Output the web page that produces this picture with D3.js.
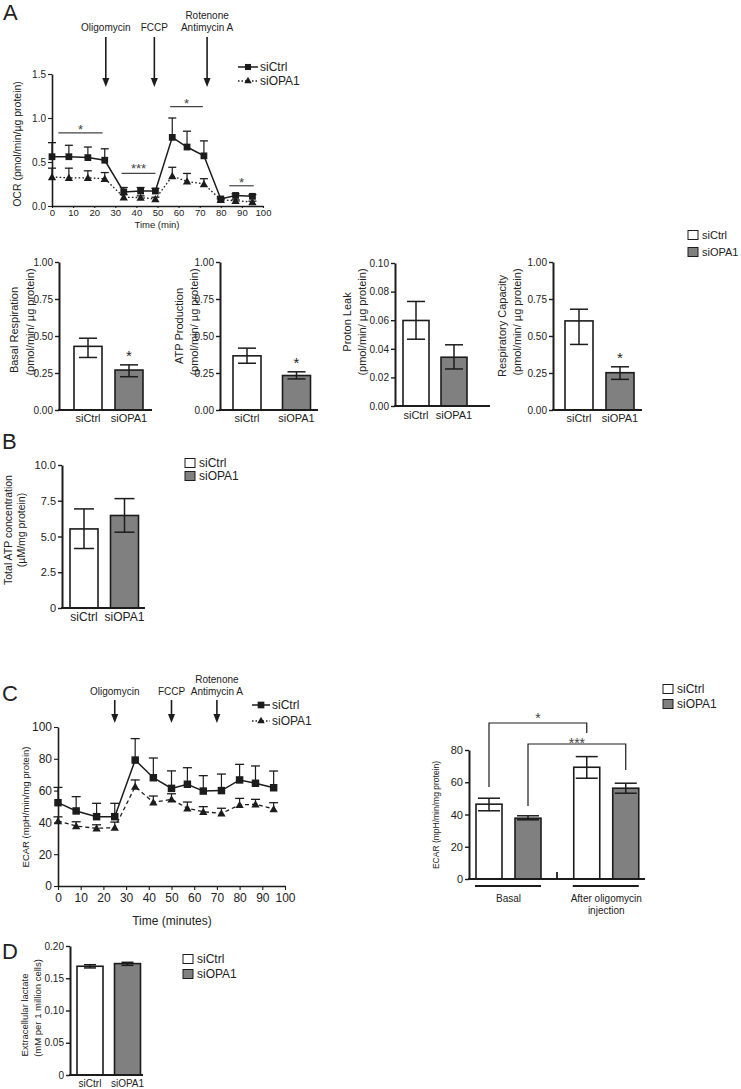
<!DOCTYPE html>
<html><head><meta charset="utf-8">
<script src="https://cdn.jsdelivr.net/npm/d3@7"></script>
<style>
body{margin:0;background:#fff}
text{font-family:"Liberation Sans",Arial,sans-serif;fill:#222}
</style>
</head><body><svg id="c" width="741" height="1089"></svg>
<script>
// ---------------- DATA ----------------
const groups = ["siCtrl", "siOPA1"];

// Panel A – OCR time course
const ocrTime = [0, 8, 17, 25, 34, 42, 49, 57, 64, 72, 80, 87, 95];
const ocrCtrl = [0.56, 0.56, 0.55, 0.52, 0.16, 0.17, 0.17, 0.78, 0.67, 0.57, 0.08, 0.12, 0.11];
const ocrCtrlErr = [0.16, 0.13, 0.12, 0.13, 0.05, 0.04, 0.03, 0.22, 0.18, 0.17, 0.01, 0.02, 0.02];
const ocrOpa = [0.33, 0.32, 0.32, 0.31, 0.10, 0.095, 0.08, 0.34, 0.28, 0.25, 0.07, 0.06, 0.045];
const ocrOpaErr = [0.10, 0.11, 0.08, 0.07, 0.03, 0.02, 0.02, 0.10, 0.09, 0.06, 0.01, 0.01, 0.01];
const ocrInjections = ["Oligomycin", "FCCP", "Rotenone\nAntimycin A"];
const ocrInjectTime = [25.5, 48.5, 73.5];
const ocrSigStart = [3, 33, 56, 84];
const ocrSigEnd = [24, 49, 71.5, 95.6];
const ocrSigLevel = [0.83, 0.37, 1.13, 0.23];
const ocrSigText = ["*", "***", "*", "*"];
const ocrXTicks = [0, 10, 20, 30, 40, 50, 60, 70, 80, 90, 100];
const ocrYTicks = [0, 0.5, 1.0, 1.5];

// Panel A – bar summaries
const basalMean = [0.43, 0.27], basalLow = [0.355, 0.225], basalHigh = [0.485, 0.305];
const atpMean = [0.366, 0.233], atpLow = [0.316, 0.21], atpHigh = [0.418, 0.258];
const leakMean = [0.0598, 0.0341], leakLow = [0.0467, 0.0259], leakHigh = [0.0731, 0.0428];
const capMean = [0.602, 0.252], capLow = [0.443, 0.207], capHigh = [0.681, 0.292];
const unitTicks = [0, 0.25, 0.5, 0.75, 1.0];
const leakTicks = [0, 0.02, 0.04, 0.06, 0.08, 0.10];

// Panel B – total ATP
const totalAtpMean = [5.53, 6.47], totalAtpLow = [4.16, 5.3], totalAtpHigh = [6.93, 7.65];
const totalAtpTicks = [0, 2.5, 5.0, 7.5, 10.0];
const totalAtpTickLabels = ["0", "2.5", "5.0", "7.5", "10.0"];

// Panel C – ECAR time course
const ecarTime = [0, 8, 17, 25, 34, 42, 50, 57, 64, 72, 80, 87, 95];
const ecarCtrl = [52.4, 47.2, 43.6, 43.6, 79.2, 68.1, 61.4, 64.0, 59.7, 60.0, 66.7, 64.6, 61.8];
const ecarCtrlErr = [9.6, 9.0, 8.4, 8.4, 13.5, 12.4, 11.0, 10.4, 9.7, 10.4, 9.8, 10.9, 10.5];
const ecarOpa = [40.9, 37.7, 36.3, 36.7, 62.5, 52.6, 54.5, 48.9, 46.7, 45.7, 51.0, 51.4, 48.4];
const ecarOpaErr = [2.6, 2.7, 2.2, 3.5, 4.2, 4.0, 3.5, 3.9, 3.2, 3.2, 4.1, 3.1, 4.0];
const ecarInjectTime = [25, 50, 70];
const ecarXTicks = [0, 10, 20, 30, 40, 50, 60, 70, 80, 90, 100];
const ecarYTicks = [0, 20, 40, 60, 80, 100];

// Panel C – ECAR bars
const ecarGroups = ["Basal", "After oligomycin\ninjection"];
const ecarBarMean = [[46.4, 37.7], [69.3, 56.3]];
const ecarBarLow = [[42.3, 36.7], [62.5, 53.2]];
const ecarBarHigh = [[50.1, 39.2], [75.9, 59.4]];
const ecarBarTicks = [0, 20, 40, 60, 80];

// Panel D – lactate
const lactateMean = [0.1686, 0.1727], lactateLow = [0.166, 0.170], lactateHigh = [0.171, 0.1747];
const lactateTicks = [0, 0.05, 0.10, 0.15, 0.20];
const lactateTickLabels = ["0", "0.05", "0.10", "0.15", "0.20"];

// ---------------- DRAWING ----------------
const svg = d3.select("#c");
const INK = "#1c1c1c";
const GRAY = "#808080";

function yAxis(scale, x, ticks, fmt, fs, sw) {
  const a = svg.append("g").attr("transform", `translate(${x},0)`)
    .call(d3.axisLeft(scale).tickValues(ticks).tickFormat(fmt).tickSize(4).tickSizeOuter(0).tickPadding(2));
  a.select(".domain").attr("stroke", INK).attr("stroke-width", sw);
  a.selectAll(".tick line").attr("stroke", INK).attr("stroke-width", Math.max(1, sw * 0.7));
  a.selectAll(".tick text").style("font-size", fs + "px");
  return a;
}
function xAxis(scale, y, ticks, fs, sw, tsz, pad) {
  const a = svg.append("g").attr("transform", `translate(0,${y})`)
    .call(d3.axisBottom(scale).tickValues(ticks).tickSize(tsz).tickSizeOuter(0).tickPadding(pad));
  a.select(".domain").attr("stroke", INK).attr("stroke-width", sw);
  a.selectAll(".tick line").attr("stroke", INK).attr("stroke-width", Math.max(1, sw * 0.7));
  a.selectAll(".tick text").style("font-size", fs + "px");
  return a;
}
function vText(x, y, str, fs) {
  svg.append("text").attr("transform", `translate(${x},${y}) rotate(-90)`)
    .attr("text-anchor", "middle").attr("dominant-baseline", "central")
    .style("font-size", fs + "px").text(str);
}
function text(x, y, str, fs, anchor = "middle") {
  return svg.append("text").attr("x", x).attr("y", y).attr("text-anchor", anchor)
    .attr("dominant-baseline", "central").style("font-size", fs + "px").text(str);
}
function letter(x, y, s) {
  svg.append("text").attr("x", x).attr("y", y).style("font-size", "22px").text(s);
}
function barLegend(x, y1, y2, fs) {
  [y1, y2].forEach((yy, i) => {
    svg.append("rect").attr("x", x).attr("y", yy - 4.5).attr("width", 10).attr("height", 9)
      .attr("fill", i ? GRAY : "#fff").attr("stroke", INK).attr("stroke-width", 1);
    text(x + 14, yy, groups[i], fs, "start");
  });
}
function errBars(cx, yLow, yHigh, capW, sw) {
  svg.append("line").attr("x1", cx).attr("x2", cx).attr("y1", yLow).attr("y2", yHigh)
    .attr("stroke", INK).attr("stroke-width", sw);
  [yLow, yHigh].forEach(yy => svg.append("line").attr("x1", cx - capW / 2).attr("x2", cx + capW / 2)
    .attr("y1", yy).attr("y2", yy).attr("stroke", INK).attr("stroke-width", sw));
}

function barChart(c) {
  const y = d3.scaleLinear().domain([0, c.max]).range([c.y0, c.y1]);
  const x = d3.scalePoint().domain(groups).range(c.xr);
  svg.append("g").selectAll("rect").data(c.mean).join("rect")
    .attr("x", (d, i) => x(groups[i]) - c.bw / 2).attr("y", d => y(d))
    .attr("width", c.bw).attr("height", d => y(0) - y(d))
    .attr("fill", (d, i) => i ? GRAY : "#fff").attr("stroke", INK).attr("stroke-width", 1.6);
  c.mean.forEach((d, i) => errBars(x(groups[i]), y(c.low[i]), y(c.high[i]), c.capW, 1.5));
  yAxis(y, c.ax, c.ticks, c.fmt, c.tfs, 2);
  svg.append("line").attr("x1", c.ax - 1).attr("x2", c.axEnd).attr("y1", y(0)).attr("y2", y(0))
    .attr("stroke", INK).attr("stroke-width", 2.2);
  groups.forEach(gname => text(x(gname), y(0) + c.lblDy, gname, c.lfs));
  c.title.forEach((t, i) => vText(c.tx[i], c.ty[i], t, c.tfs2));
  if (c.star) c.star.forEach((s, i) => {
    if (s) svg.append("text").attr("x", x(groups[i])).attr("y", y(c.high[i]) + c.starDy)
      .attr("text-anchor", "middle").style("font-size", "15px").text(s);
  });
  return { x, y };
}

function arrow(x, yTop, yBot) {
  svg.append("line").attr("x1", x).attr("x2", x).attr("y1", yTop).attr("y2", yBot - 6)
    .attr("stroke", INK).attr("stroke-width", 1.6);
  svg.append("path").attr("d", `M${x - 3.5},${yBot - 9}L${x + 3.5},${yBot - 9}L${x},${yBot}Z`).attr("fill", INK);
}

function lineChart(c) {
  const x = d3.scaleLinear().domain([0, 100]).range(c.xr);
  const y = d3.scaleLinear().domain([0, c.max]).range([c.y0, c.y1]);
  const series = [
    { t: c.t, v: c.ctrl, e: c.ctrlErr, dash: null, sym: d3.symbolSquare, size: c.sq },
    { t: c.t, v: c.opa, e: c.opaErr, dash: c.dash, sym: d3.symbolTriangle, size: c.tri }
  ];
  series.forEach(s => {
    s.v.forEach((v, i) => {
      const cx = x(s.t[i]);
      svg.append("line").attr("x1", cx).attr("x2", cx).attr("y1", y(v)).attr("y2", y(v + s.e[i]))
        .attr("stroke", INK).attr("stroke-width", 1.2);
      svg.append("line").attr("x1", cx - c.capW / 2).attr("x2", cx + c.capW / 2)
        .attr("y1", y(v + s.e[i])).attr("y2", y(v + s.e[i])).attr("stroke", INK).attr("stroke-width", 1.3);
    });
  });
  series.forEach(s => {
    const line = d3.line().x((d, i) => x(s.t[i])).y(d => y(d));
    svg.append("path").attr("d", line(s.v)).attr("fill", "none").attr("stroke", INK)
      .attr("stroke-width", s.dash ? 1.3 : 1.5).attr("stroke-dasharray", s.dash);
    svg.append("g").selectAll("path").data(s.v).join("path")
      .attr("transform", (d, i) => `translate(${x(s.t[i])},${y(d) + (s.sym === d3.symbolTriangle ? 0.8 : 0)})`)
      .attr("d", d3.symbol().type(s.sym).size(s.size)).attr("fill", INK);
  });
  yAxis(y, c.xr[0], c.yTicks, c.yFmt, c.yfs, 1.6);
  xAxis(x, c.y0, c.xTicks, c.xfs, 1.6, c.xTickSize, c.xPad);
  c.inj.forEach((tm, i) => {
    const ax = x(tm);
    arrow(ax, c.arrowTop, c.arrowBot);
    const lines = c.injNames[i].split("\n");
    lines.forEach((ln, k) => text(ax, c.injY - (lines.length - 1 - k) * 12, ln, c.injFs));
  });
  series.forEach((s, i) => {
    const ly = c.legY[i];
    svg.append("line").attr("x1", c.legX).attr("x2", c.legX + c.legW).attr("y1", ly).attr("y2", ly)
      .attr("stroke", INK).attr("stroke-width", 1.5).attr("stroke-dasharray", s.dash ? "1.5,2" : null);
    svg.append("path").attr("transform", `translate(${c.legX + c.legW / 2},${ly})`)
      .attr("d", d3.symbol().type(s.sym).size(s.size * 0.8)).attr("fill", INK);
    text(c.legX + c.legW + 2, ly, groups[i], c.legFs, "start");
  });
  return { x, y };
}

// ---- Panel A line chart ----
letter(3, 20, "A");
const A = lineChart({
  xr: [52, 263], y0: 206, y1: 74, max: 1.5,
  t: ocrTime, ctrl: ocrCtrl, ctrlErr: ocrCtrlErr, opa: ocrOpa, opaErr: ocrOpaErr,
  dash: "1.6,2.2", sq: 46, tri: 30, capW: 8,
  yTicks: ocrYTicks, yFmt: d3.format(".1f"), yfs: 10, xTicks: ocrXTicks, xfs: 9.5, xTickSize: 2, xPad: 1,
  inj: ocrInjectTime, injNames: ocrInjections, injY: 27, injFs: 10, arrowTop: 37, arrowBot: 87,
  legX: 238, legW: 20, legY: [67, 81], legFs: 12
});
vText(17, 144, "OCR (pmol/min/µg protein)", 10.5);
text(157, 224, "Time (min)", 9.5);
ocrSigText.forEach((s, i) => {
  const ly = A.y(ocrSigLevel[i]);
  svg.append("line").attr("x1", A.x(ocrSigStart[i])).attr("x2", A.x(ocrSigEnd[i]))
    .attr("y1", ly).attr("y2", ly).attr("stroke", "#444").attr("stroke-width", 1.2);
  svg.append("text").attr("x", (A.x(ocrSigStart[i]) + A.x(ocrSigEnd[i])) / 2)
    .attr("y", ly + (s.length > 1 ? -0.5 : 1.5)).attr("text-anchor", "middle")
    .style("font-size", "13px").style("fill", "#444").text(s);
});

// ---- Panel A bar charts ----
const f2 = d3.format(".2f");
barChart({ max: 1, y0: 410, y1: 262, xr: [88, 129], bw: 28, mean: basalMean, low: basalLow, high: basalHigh,
  capW: 18, ax: 59, axEnd: 152, ticks: unitTicks, fmt: f2, tfs: 10, lblDy: 8, lfs: 11,
  title: ["Basal Respiration", "(pmol/min/ µg protein)"], tx: [14, 30], ty: [330, 322], tfs2: 11,
  star: [null, "*"], starDy: -4 });
barChart({ max: 1, y0: 410, y1: 262, xr: [247, 296.5], bw: 28, mean: atpMean, low: atpLow, high: atpHigh,
  capW: 18, ax: 220, axEnd: 318, ticks: unitTicks, fmt: f2, tfs: 10, lblDy: 8, lfs: 11,
  title: ["ATP Production", "(pmol/min/ µg protein)"], tx: [179, 194], ty: [326, 322], tfs2: 11,
  star: [null, "*"], starDy: -4 });
barChart({ max: 0.1, y0: 406, y1: 263, xr: [416, 454], bw: 26, mean: leakMean, low: leakLow, high: leakHigh,
  capW: 18, ax: 395, axEnd: 490, ticks: leakTicks, fmt: f2, tfs: 10, lblDy: 9, lfs: 11,
  title: ["Proton Leak", "(pmol/min/ µg protein)"], tx: [347, 362], ty: [322, 322], tfs2: 11 });
barChart({ max: 1, y0: 410, y1: 262, xr: [579, 620], bw: 28, mean: capMean, low: capLow, high: capHigh,
  capW: 18, ax: 553, axEnd: 642, ticks: unitTicks, fmt: f2, tfs: 10, lblDy: 8, lfs: 11,
  title: ["Respiratory Capacity", "(pmol/min/ µg protein)"], tx: [502, 517], ty: [326, 322], tfs2: 11,
  star: [null, "*"], starDy: -4 });
barLegend(688, 235, 252, 11);

// ---- Panel B ----
letter(2, 449, "B");
barChart({ max: 10, y0: 608, y1: 465, xr: [84, 124.5], bw: 28, mean: totalAtpMean, low: totalAtpLow, high: totalAtpHigh,
  capW: 20, ax: 62, axEnd: 145, ticks: totalAtpTicks, fmt: (d, i) => totalAtpTickLabels[i], tfs: 11, lblDy: 9, lfs: 12,
  title: ["Total ATP concentration", "(µM/mg protein)"], tx: [8, 21], ty: [530, 530], tfs2: 10.5 });
barLegend(185, 463, 476, 12);

// ---- Panel C line chart ----
letter(2, 701, "C");
const C = lineChart({
  xr: [58, 285], y0: 886, y1: 727, max: 100,
  t: ecarTime, ctrl: ecarCtrl, ctrlErr: ecarCtrlErr, opa: ecarOpa, opaErr: ecarOpaErr,
  dash: "4,3", sq: 56, tri: 30, capW: 9,
  yTicks: ecarYTicks, yFmt: d3.format("d"), yfs: 12, xTicks: ecarXTicks, xfs: 12, xTickSize: 4, xPad: 3,
  inj: ecarInjectTime, injNames: ocrInjections, injY: 691, injFs: 10, arrowTop: 700, arrowBot: 723,
  legX: 252, legW: 18, legY: [705, 721], legFs: 12
});
vText(25, 807, "ECAR (mpH/min/mg protein)", 9.5);
text(172, 921, "Time (minutes)", 12);

// ---- Panel C bars ----
{
  const y = d3.scaleLinear().domain([0, 80]).range([879, 750]);
  const gx = d3.scalePoint().domain(ecarGroups).range([508.5, 606.25]);
  const ix = d3.scalePoint().domain(groups).range([-19.5, 19.5]);
  const bw = 26;
  ecarGroups.forEach((gname, gi) => {
    svg.append("g").selectAll("rect").data(ecarBarMean[gi]).join("rect")
      .attr("x", (d, i) => gx(gname) + ix(groups[i]) - bw / 2).attr("y", d => y(d))
      .attr("width", bw).attr("height", d => y(0) - y(d))
      .attr("fill", (d, i) => i ? GRAY : "#fff").attr("stroke", INK).attr("stroke-width", 1.6);
    ecarBarMean[gi].forEach((d, i) => errBars(gx(gname) + ix(groups[i]), y(ecarBarLow[gi][i]), y(ecarBarHigh[gi][i]), 22, 1.5));
    svg.append("line").attr("x1", gx(gname) + ix(groups[0]) - bw / 2 - 1).attr("x2", gx(gname) + ix(groups[1]) + bw / 2)
      .attr("y1", 886).attr("y2", 886).attr("stroke", INK).attr("stroke-width", 2);
    const lines = gname.split("\n");
    lines.forEach((ln, k) => text(gx(gname), 898 + k * 12, ln, 10));
  });
  yAxis(y, 469, ecarBarTicks, d3.format("d"), 11, 2);
  svg.append("line").attr("x1", 468).attr("x2", 645).attr("y1", y(0)).attr("y2", y(0))
    .attr("stroke", INK).attr("stroke-width", 2.2);
  svg.append("line").attr("x1", 557).attr("x2", 557).attr("y1", y(0)).attr("y2", y(0) - 7)
    .attr("stroke", INK).attr("stroke-width", 1.8);
  vText(436, 815, "ECAR (mpH/min/mg protein)", 8.5);
  const brackets = [
    { a: [0, 0], b: [1, 0], top: 723, sA: 787, sB: 733, label: "*", ly: 723 },
    { a: [0, 1], b: [1, 1], top: 744, sA: 806, sB: 770, label: "***", ly: 748 }
  ];
  brackets.forEach(br => {
    const xa = gx(ecarGroups[br.a[0]]) + ix(groups[br.a[1]]);
    const xb = gx(ecarGroups[br.b[0]]) + ix(groups[br.b[1]]);
    svg.append("path").attr("d", `M${xa},${br.sA}V${br.top}H${xb}V${br.sB}`)
      .attr("fill", "none").attr("stroke", INK).attr("stroke-width", 1.2);
    svg.append("text").attr("x", (xa + xb) / 2).attr("y", br.ly).attr("text-anchor", "middle")
      .style("font-size", "14px").style("fill", "#444").text(br.label);
  });
  barLegend(663, 689, 704, 12);
}

// ---- Panel D ----
letter(2, 959, "D");
barChart({ max: 0.2, y0: 1075, y1: 946, xr: [90, 127.5], bw: 26, mean: lactateMean, low: lactateLow, high: lactateHigh,
  capW: 12, ax: 70, axEnd: 143, ticks: lactateTicks, fmt: (d, i) => lactateTickLabels[i], tfs: 10, lblDy: 8, lfs: 10,
  title: ["Extracellular lactate", "(mM per 1 million cells)"], tx: [24, 37], ty: [1015, 1008], tfs2: 9.5 });
barLegend(183, 959, 974, 12);
</script>
</body></html>
